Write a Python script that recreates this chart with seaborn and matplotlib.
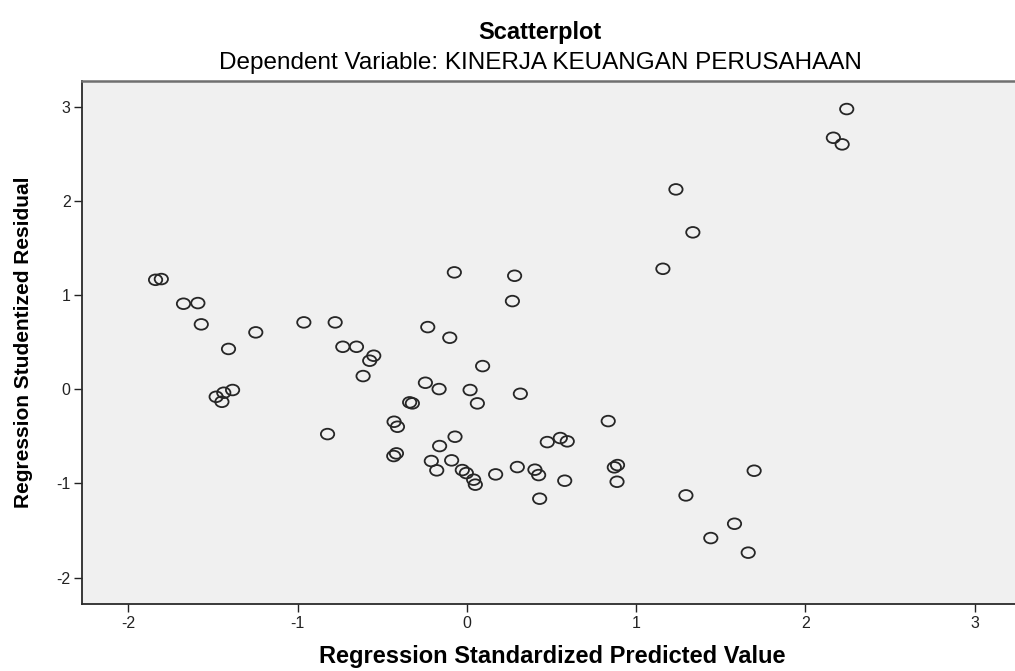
import numpy as np
import pandas as pd
import matplotlib
matplotlib.use("Agg")
import matplotlib.pyplot as plt
import seaborn as sns
from matplotlib.path import Path
from matplotlib.transforms import Affine2D

# ---- data ----
predicted = [
    -1.839, -1.805, -1.674, -1.589, -1.569, -1.408, -1.247, -0.963, -0.778, -0.733,
    -0.652, -0.550, -0.574, -0.613, -1.384, -1.436, -1.481, -1.447, -0.338, -0.322,
    -0.430, -0.410, -0.823, -0.416, -0.432, -0.074, 0.282, 0.269, -0.231, -0.101,
    0.093, -0.245, -0.164, 0.019, 0.316, 0.062, 0.835, -0.070, -0.161, 0.552,
    0.475, 0.593, -0.210, -0.090, -0.178, -0.027, -0.003, 0.040, 0.050, 0.170,
    0.298, 0.402, 0.424, 0.578, 0.430, 0.890, 0.871, 0.887, 2.244, 2.165,
    2.217, 1.235, 1.335, 1.158, 1.697, 1.294, 1.581, 1.441, 1.662,
]
residual = [
    1.162, 1.170, 0.908, 0.915, 0.689, 0.428, 0.604, 0.710, 0.710, 0.451,
    0.451, 0.356, 0.303, 0.140, -0.008, -0.037, -0.080, -0.133, -0.139, -0.150,
    -0.345, -0.398, -0.476, -0.681, -0.709, 1.241, 1.205, 0.936, 0.660, 0.547,
    0.246, 0.069, 0.002, -0.008, -0.048, -0.150, -0.338, -0.504, -0.603, -0.518,
    -0.561, -0.553, -0.762, -0.755, -0.861, -0.858, -0.890, -0.960, -1.013, -0.904,
    -0.826, -0.854, -0.911, -0.971, -1.162, -0.805, -0.829, -0.982, 2.975, 2.670,
    2.600, 2.122, 1.666, 1.279, -0.865, -1.127, -1.428, -1.580, -1.735,
]
x_ticks = [-2, -1, 0, 1, 2, 3]
y_ticks = [-2, -1, 0, 1, 2, 3]
title_main = "Scatterplot"
title_sub = "Dependent Variable: KINERJA KEUANGAN PERUSAHAAN"
x_label = "Regression Standardized Predicted Value"
y_label = "Regression Studentized Residual"

df = pd.DataFrame({"pred": predicted, "resid": residual})

sns.set_theme(style="white")
plt.rcParams["font.family"] = ["Liberation Sans", "DejaVu Sans"]

W, H = 1015, 671
fig = plt.figure(figsize=(W / 100, H / 100), dpi=100)
fig.patch.set_facecolor("white")
ax_l, ax_r, ax_t, ax_b = 81.5, 1015.0, 80.7, 604.0
ax = fig.add_axes([ax_l / W, (H - ax_b) / H, (ax_r - ax_l) / W, (ax_b - ax_t) / H])
ax.set_facecolor("#f0f0f0")

ellipse = Path.unit_circle().transformed(Affine2D().scale(1.25, 1.0))
sns.scatterplot(data=df, x="pred", y="resid", ax=ax, marker=ellipse, s=92,
                facecolors="none", edgecolor="#262626", linewidth=1.3, legend=False)

ax.set_xlim(-2.2765, 3.238)
ax.set_ylim(-2.280, 3.276)
ax.set_xticks(x_ticks)
ax.set_yticks(y_ticks)
ax.set_xticklabels([str(t) for t in x_ticks])
ax.set_yticklabels([str(t) for t in y_ticks])
ax.tick_params(axis="both", direction="out", length=5.8, width=1.0, color="#222222",
               labelsize=11.5, labelcolor="#222222")
ax.tick_params(axis="x", pad=3)
ax.tick_params(axis="y", pad=2)
ax.tick_params(bottom=True, left=True)

for side in ["left", "bottom"]:
    ax.spines[side].set_color("#2a2a2a")
    ax.spines[side].set_linewidth(1.3)
ax.spines["top"].set_color("#707070")
ax.spines["top"].set_linewidth(1.8)
ax.spines["right"].set_visible(False)

ax.set_xlabel(x_label, fontsize=17, fontweight="bold", color="black", va="center")
ax.set_ylabel(y_label, fontsize=15, fontweight="bold", color="black", va="center")
ax.xaxis.set_label_coords((552 - ax_l) / (ax_r - ax_l), (ax_b - 656) / (ax_b - ax_t))
ax.yaxis.set_label_coords((24 - ax_l) / (ax_r - ax_l), (ax_b - 342) / (ax_b - ax_t))

fig.text(540 / W, 1 - 32 / H, title_main, ha="center", va="center",
         fontsize=17, fontweight="bold", color="black")
fig.text(540 / W, 1 - 63 / H, title_sub, ha="center", va="center",
         fontsize=17.5, color="black")

fig.savefig("out.png", dpi=100)
